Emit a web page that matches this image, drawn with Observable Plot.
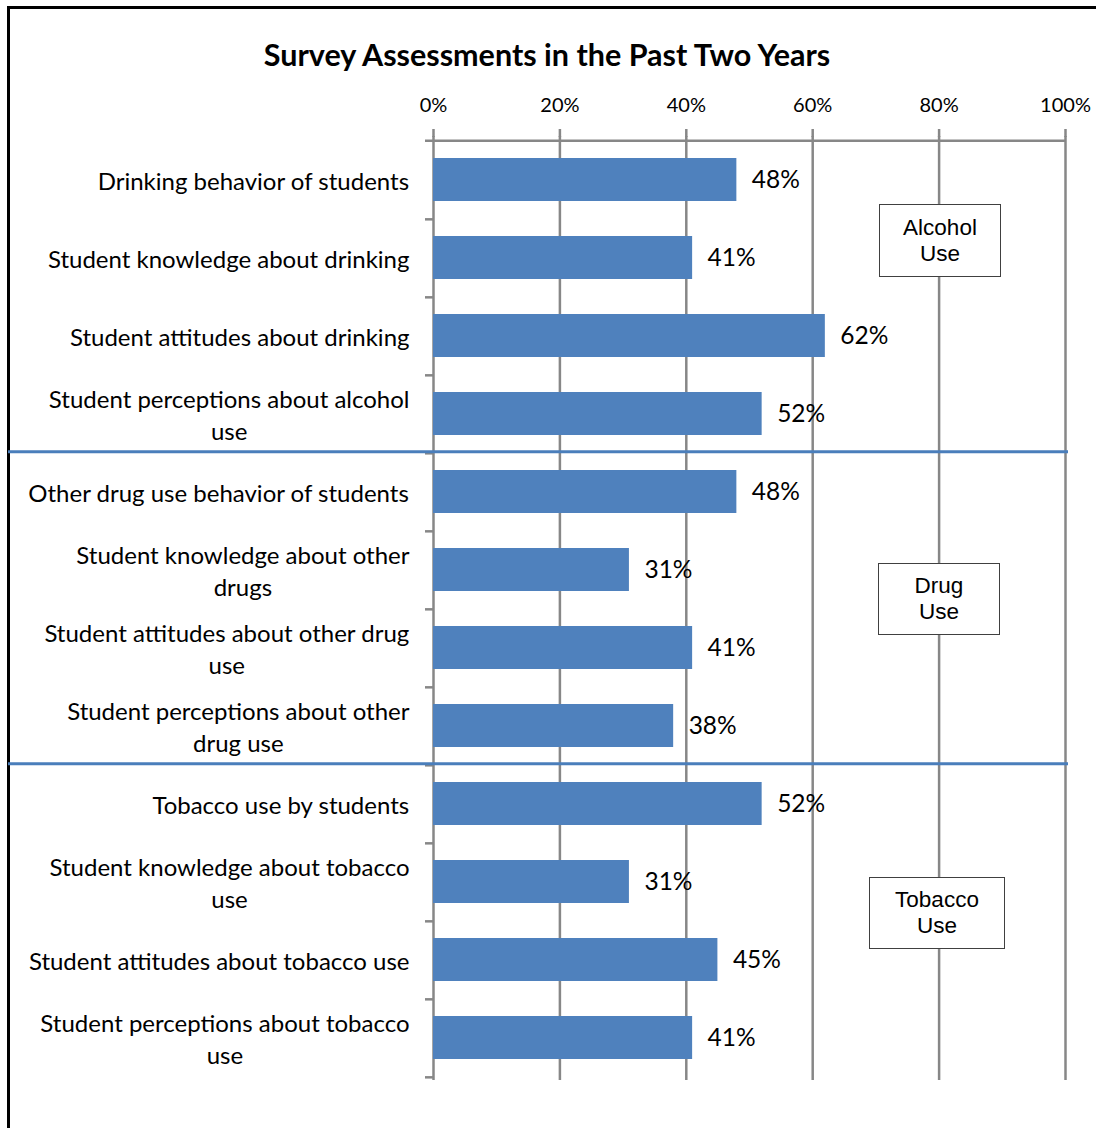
<!DOCTYPE html>
<html>
<head>
<meta charset="utf-8">
<script src="https://cdn.jsdelivr.net/npm/d3@7"></script>
<script src="https://cdn.jsdelivr.net/npm/@observablehq/plot@0.6"></script>
<style>
  html, body { margin: 0; padding: 0; background: #fff; }
  body { width: 1096px; height: 1128px; overflow: hidden; position: relative; font-family: Lato, "Open Sans", sans-serif; }
  .frame { position: absolute; left: 7px; top: 6px; width: 2000px; height: 2000px; border: 3px solid #000; box-sizing: border-box; }
  #title { position: absolute; left: 0; top: 35px; width: 1094px; text-align: center; font: bold 30.5px Lato, sans-serif; line-height: 38px; color: #000; }
  #chart { position: absolute; left: 0; top: 77px; line-height: 0; }
  .box { position: absolute; box-sizing: border-box; border: 1.5px solid #404040; background: #fff; font: 22.5px "Liberation Sans", Arial, sans-serif; line-height: 26px; color: #000; text-align: center; display: flex; align-items: center; justify-content: center; }
</style>
</head>
<body>
<div class="frame"></div>
<div id="title">Survey Assessments in the Past Two Years</div>
<div id="chart"></div>
<div class="box" style="left:879px;top:204px;width:122px;height:73px">Alcohol<br>Use</div>
<div class="box" style="left:878px;top:563px;width:122px;height:72px">Drug<br>Use</div>
<div class="box" style="left:869px;top:877px;width:136px;height:72px">Tobacco<br>Use</div>
<script>
// ---- data ----
const categories = [
  "Drinking behavior of students",
  "Student knowledge about drinking",
  "Student attitudes about drinking",
  "Student perceptions about alcohol use",
  "Other drug use behavior of students",
  "Student knowledge about other drugs",
  "Student attitudes about other drug use",
  "Student perceptions about other drug use",
  "Tobacco use by students",
  "Student knowledge about tobacco use",
  "Student attitudes about tobacco use",
  "Student perceptions about tobacco use"
];
const labelText = [
  "Drinking behavior of students",
  "Student knowledge about drinking",
  "Student attitudes about drinking",
  "Student perceptions about alcohol\nuse",
  "Other drug use behavior of students",
  "Student knowledge about other\ndrugs",
  "Student attitudes about other drug\nuse",
  "Student perceptions about other\ndrug use",
  "Tobacco use by students",
  "Student knowledge about tobacco\nuse",
  "Student attitudes about tobacco use",
  "Student perceptions about tobacco\nuse"
];
const values = [48, 41, 62, 52, 48, 31, 41, 38, 52, 31, 45, 41];
const xTicks = [0, 20, 40, 60, 80, 100];
const groupEnds = [categories[3], categories[7]];

const data = categories.map((c, i) => ({cat: c, value: values[i]}));

// ---- layout ----
const W = 1096, H = 1051;
const mTop = 59, mBottom = 48, mLeft = 433, mRight = 31;
const step = (H - mTop - mBottom) / categories.length;
const gridColor = "#878787";
const barColor = "#4F81BD";
const labelFont = 24;
const lineHeight = 1.33;
const labelGap = 24;

const ctx = document.createElement("canvas").getContext("2d");
ctx.font = `${labelFont}px Lato`;

const labelMarks = categories.map((c, i) => {
  const lines = labelText[i].split("\n");
  const w = Math.max(...lines.map(s => ctx.measureText(s).width));
  return Plot.text([c], {
    y: d => d,
    text: () => labelText[i],
    frameAnchor: "left",
    textAnchor: "middle",
    dx: -(labelGap + w / 2),
    fontSize: labelFont,
    lineHeight,
    fill: "#000"
  });
});

const chart = Plot.plot({
  width: W,
  height: H,
  marginTop: mTop,
  marginBottom: mBottom,
  marginLeft: mLeft,
  marginRight: mRight,
  style: {fontFamily: "Lato, sans-serif", color: "#000", background: "transparent", overflow: "visible"},
  x: {domain: [0, 100]},
  y: {domain: categories, paddingInner: 0.45, paddingOuter: 0.225},
  marks: [
    Plot.gridX(xTicks, {stroke: gridColor, strokeOpacity: 1, strokeWidth: 2.5}),
    Plot.ruleY([categories[0]], {dy: -step / 2, insetLeft: -8, stroke: gridColor, strokeWidth: 2.5}),
    Plot.axisY({tickSize: 8, tickFormat: () => "", label: null, dy: step / 2, stroke: gridColor, strokeWidth: 2.5}),
    Plot.axisX({anchor: "top", ticks: xTicks, tickFormat: d => d + "%", tickSize: 8, tickPadding: 17, fontSize: 20, label: null, stroke: gridColor, strokeWidth: 2.5}),
    Plot.barX(data, {x: "value", y: "cat", fill: barColor}),
    Plot.text(data, {x: "value", y: "cat", text: d => d.value + "%", textAnchor: "start", dx: 15, fontSize: 24.5, fill: "#000"}),
    ...labelMarks,
    Plot.ruleY(groupEnds, {dy: step / 2 - 1.5, insetLeft: -(mLeft - 8), insetRight: -3, stroke: "#4A7EBB", strokeWidth: 3})
  ]
});
chart.style.display = "block";
document.getElementById("chart").appendChild(chart);
</script>
</body>
</html>
